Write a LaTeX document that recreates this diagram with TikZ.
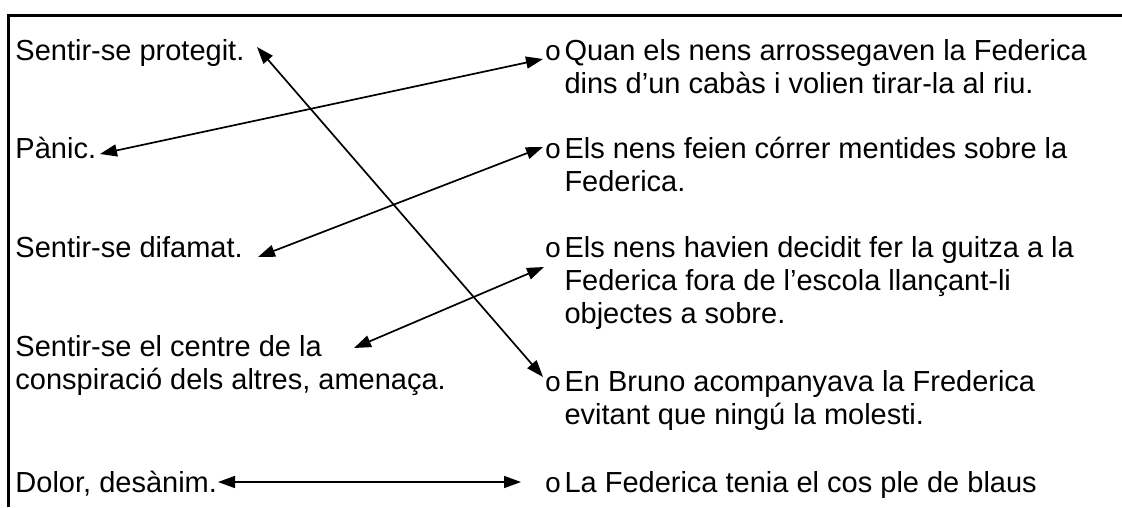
\documentclass[tikz,border=0pt]{standalone}
\usepackage{fontspec}
\setmainfont{Liberation Sans}
\newfontfamily\bulletfont{Liberation Mono}
\usetikzlibrary{arrows.meta}
\newcommand\mybul{\makebox[18.5pt][l]{\hspace*{-1.5pt}\bulletfont\fontsize{28}{28}\selectfont o}}
\begin{document}
\begin{tikzpicture}[x=1pt,y=-1pt,
  txt/.style={anchor=base west, inner sep=0pt, outer sep=0pt, font=\fontsize{29}{33.4}\selectfont},
  frame/.style={line width=2.5pt},
  link/.style={line width=1.7pt, {Triangle[length=17pt,width=12pt]}-{Triangle[length=17pt,width=12pt]}}]
\useasboundingbox (0,0) rectangle (1122,507);
\draw[frame] (8.5,507) -- (8.5,15.5) -- (1122,15.5);

% left column
\node[txt] (l1) at (15.5,60) {Sentir-se protegit.};
\node[txt] (l2) at (15.5,158) {Pànic.};
\node[txt] (l3) at (15.5,257) {Sentir-se difamat.};
\node[txt] (l4) at (15.5,356) {\begin{tabular}[t]{@{}l@{}}Sentir-se el centre de la\\conspiració dels altres, amenaça.\end{tabular}};
\node[txt] (l5) at (15.5,492) {Dolor, desànim.};

% right column
\node[txt] (r1) at (546,60) {\begin{tabular}[t]{@{}l@{}l@{}}\mybul&Quan els nens arrossegaven la Federica\\&dins d’un cabàs i volien tirar-la al riu.\end{tabular}};
\node[txt] (r2) at (546,158) {\begin{tabular}[t]{@{}l@{}l@{}}\mybul&Els nens feien córrer mentides sobre la\\&Federica.\end{tabular}};
\node[txt] (r3) at (546,257) {\begin{tabular}[t]{@{}l@{}l@{}}\mybul&Els nens havien decidit fer la guitza a la\\&Federica fora de l’escola llançant-li\\&objectes a sobre.\end{tabular}};
\node[txt] (r4) at (546,391) {\begin{tabular}[t]{@{}l@{}l@{}}\mybul&En Bruno acompanyava la Frederica\\&evitant que ningú la molesti.\end{tabular}};
\node[txt] (r5) at (546,492) {\begin{tabular}[t]{@{}l@{}l@{}}\mybul&La Federica tenia el cos ple de blaus\end{tabular}};

% arrow ends
\coordinate (a1) at (257,47);
\coordinate (a2) at (543,377);
\coordinate (b1) at (100,154);
\coordinate (b2) at (543,59);
\coordinate (c1) at (258,257);
\coordinate (c2) at (543,147);
\coordinate (d1) at (354,348);
\coordinate (d2) at (544,267);
\coordinate (e1) at (218,482);
\coordinate (e2) at (521,482);

\draw[link] (a1) -- (a2);
\draw[link] (b1) -- (b2);
\draw[link] (c1) -- (c2);
\draw[link] (d1) -- (d2);
\draw[link] (e1) -- (e2);
\end{tikzpicture}
\end{document}
